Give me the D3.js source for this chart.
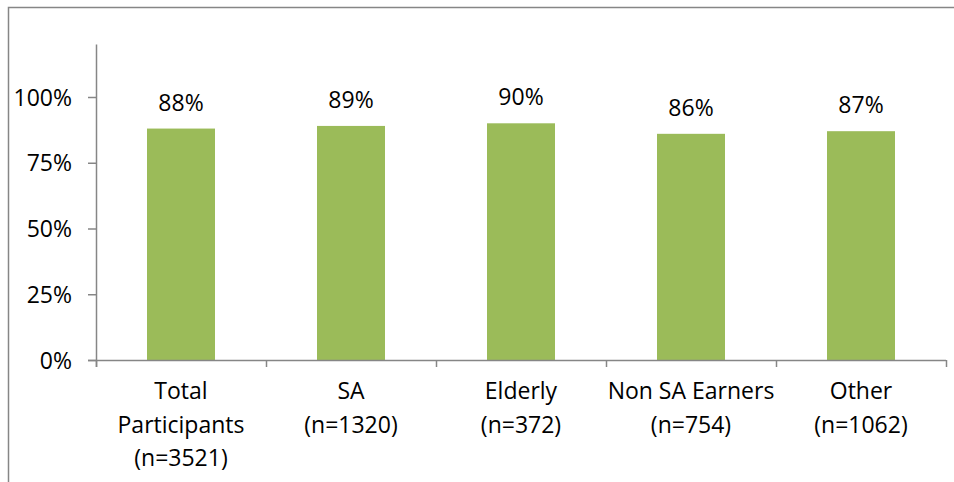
<!DOCTYPE html>
<html>
<head>
<meta charset="utf-8">
<script src="https://cdn.jsdelivr.net/npm/d3@7"></script>
<style>
  body { margin: 0; background: #fff; }
  svg { display: block; }
  text { font-family: "Open Sans", "Noto Sans", sans-serif; fill: #000; }
</style>
</head>
<body>
<svg width="954" height="482"></svg>
<script>
var categories = [
    ["Total", "Participants", "(n=3521)"],
    ["SA", "(n=1320)"],
    ["Elderly", "(n=372)"],
    ["Non SA Earners", "(n=754)"],
    ["Other", "(n=1062)"]
];
var values = [88, 89, 90, 86, 87];
var yTicks = [0, 25, 50, 75, 100];

var svg = d3.select("svg");
var axisColor = "#868686";

// outer frame (top + left edge only visible)
svg.append("path")
    .attr("d", "M8.5,482 V7.5 H954")
    .attr("fill", "none").attr("stroke", axisColor).attr("stroke-width", 1.5);

var xBand = d3.scaleBand().domain(d3.range(values.length)).range([96, 946]).paddingInner(0.6).paddingOuter(0.3);
var xEdge = d3.scaleLinear().domain([0, values.length]).range([96, 946]);
var yScale = d3.scaleLinear().domain([0, 120]).range([360, 44.4]);

// bars
svg.selectAll("rect.bar").data(values).enter().append("rect")
    .attr("class", "bar")
    .attr("x", function (d, i) { return xBand(i); })
    .attr("width", xBand.bandwidth())
    .attr("y", function (d) { return yScale(d); })
    .attr("height", function (d) { return yScale(0) - yScale(d); })
    .attr("fill", "#9BBB59");

// value labels
svg.selectAll("text.val").data(values).enter().append("text")
    .attr("class", "val")
    .attr("x", function (d, i) { return xBand(i) + xBand.bandwidth() / 2; })
    .attr("y", function (d) { return yScale(d) - 18; })
    .attr("text-anchor", "middle")
    .style("font-size", "23px")
    .text(function (d) { return d + "%"; });

// y axis
var yAxis = d3.axisLeft(yScale).tickValues(yTicks).tickSize(8).tickSizeOuter(0)
    .tickFormat(function (d) { return d + "%"; });
var yG = svg.append("g").attr("transform", "translate(96,0)").call(yAxis);
yG.select(".domain").attr("d", "M0.5,44.4V367").attr("stroke", axisColor).attr("stroke-width", 1.5);
yG.selectAll(".tick line").attr("stroke", axisColor).attr("stroke-width", 1.5);
yG.selectAll(".tick text").attr("x", -24).attr("dy", "0.35em")
    .style("font-size", "23px").style("font-family", "'Open Sans', sans-serif").attr("fill", "#000");

// x axis with boundary ticks
var xAxis = d3.axisBottom(xEdge).tickValues(d3.range(values.length + 1)).tickSize(7).tickSizeOuter(0)
    .tickFormat("");
var xG = svg.append("g").attr("transform", "translate(0,360)").call(xAxis);
xG.select(".domain").attr("d", "M88,0.5H946").attr("stroke", axisColor).attr("stroke-width", 1.5);
xG.selectAll(".tick line").attr("stroke", axisColor).attr("stroke-width", 1.5);

// category labels
var catG = svg.selectAll("text.cat").data(categories).enter().append("text")
    .attr("class", "cat")
    .attr("text-anchor", "middle")
    .style("font-size", "23px")
    .attr("transform", function (d, i) { return "translate(" + (xBand(i) + xBand.bandwidth() / 2) + ",399)"; });
catG.selectAll("tspan").data(function (d) { return d; }).enter().append("tspan")
    .attr("x", 0)
    .attr("y", function (d, i) { return i * 33.5; })
    .text(function (d) { return d; });
</script>
</body>
</html>
